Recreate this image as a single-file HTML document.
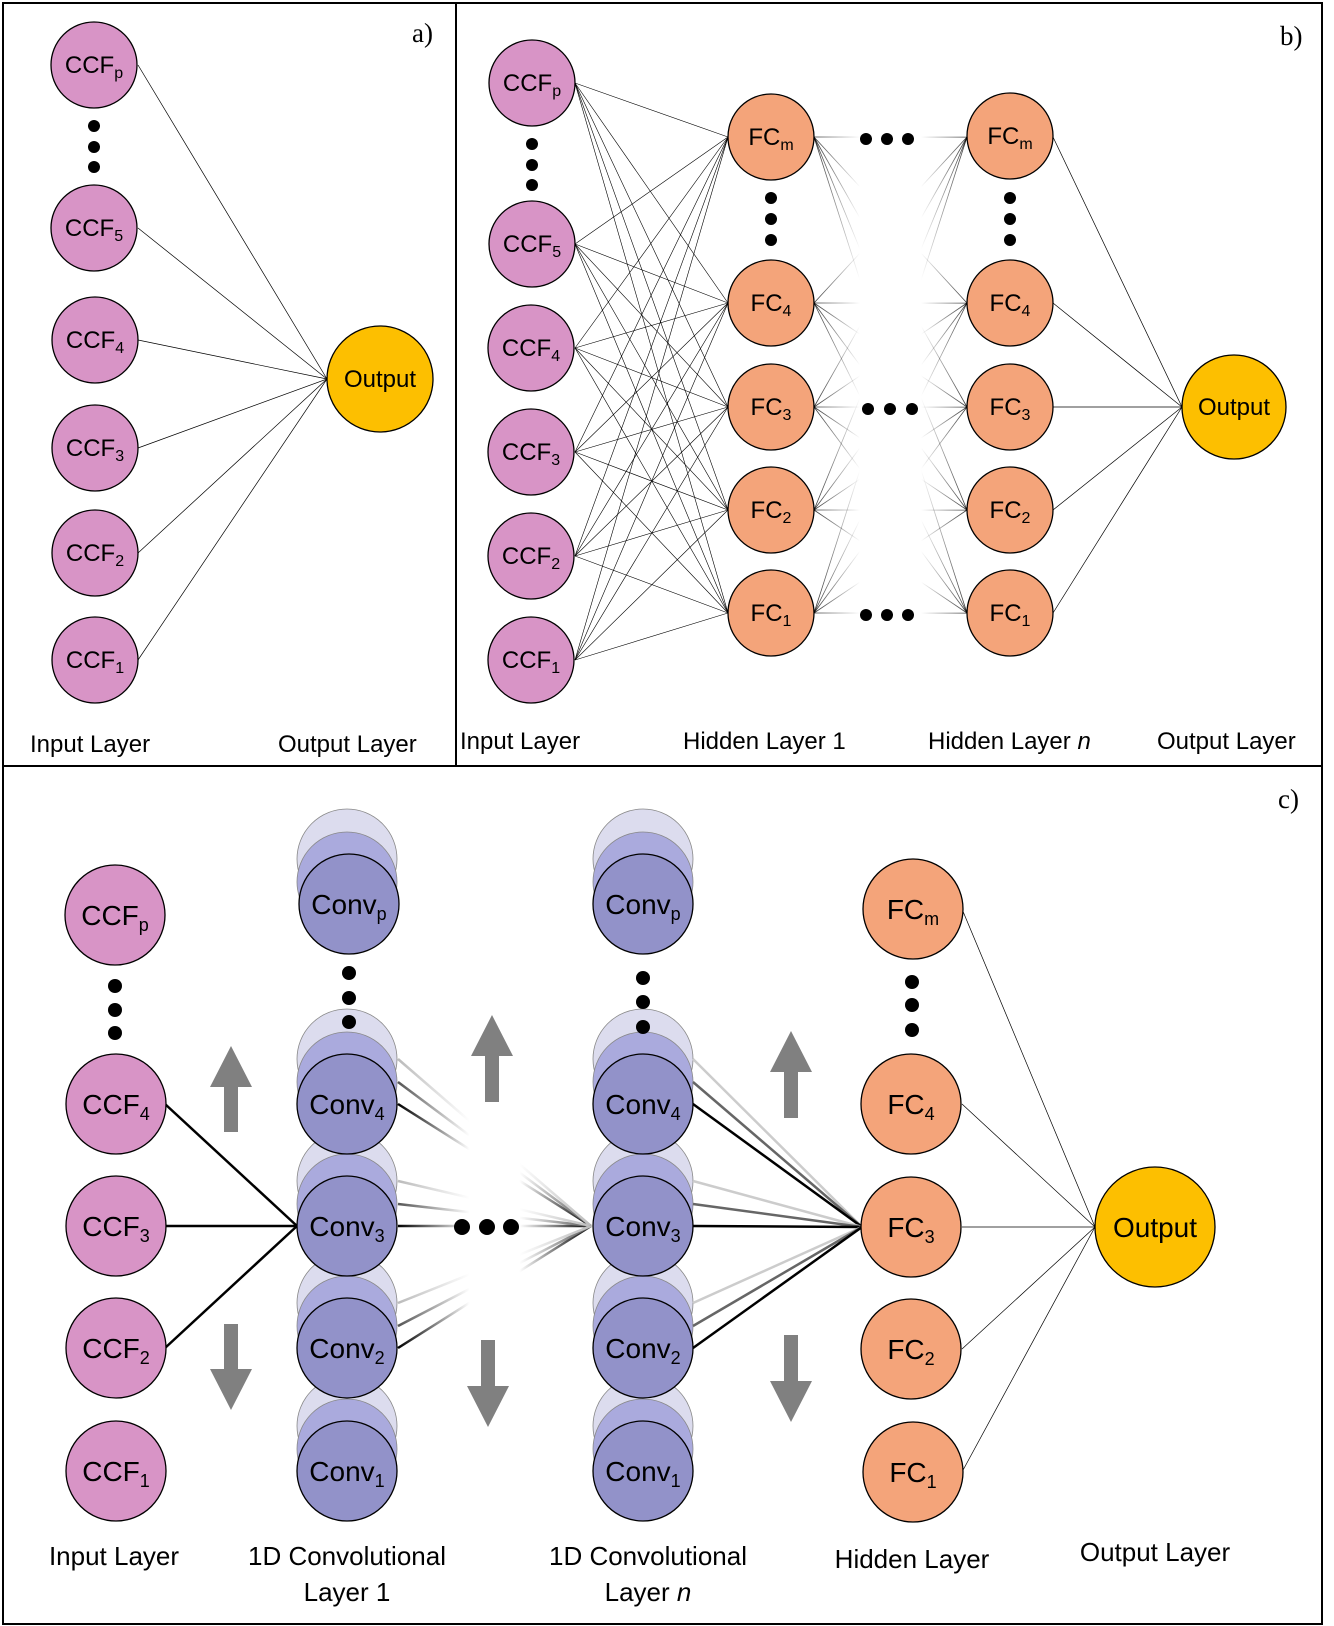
<!DOCTYPE html>
<html><head><meta charset="utf-8"><style>
html,body{margin:0;padding:0;background:#fff;}
svg{display:block;}
text{font-family:"Liberation Sans",sans-serif;fill:#000;}
.s{font-family:"Liberation Serif",serif;}
</style></head><body>
<svg width="1334" height="1626" viewBox="0 0 1334 1626" xmlns="http://www.w3.org/2000/svg">
<defs>
<linearGradient id="gb" gradientUnits="userSpaceOnUse" x1="814" y1="0" x2="967" y2="0">
<stop offset="0" stop-color="#000" stop-opacity="0.8"/><stop offset="0.3" stop-color="#000" stop-opacity="0"/>
<stop offset="0.7" stop-color="#000" stop-opacity="0"/><stop offset="1" stop-color="#000" stop-opacity="0.8"/></linearGradient>
<linearGradient id="fade" gradientUnits="userSpaceOnUse" x1="398" y1="0" x2="591" y2="0">
<stop offset="0" stop-color="#fff" stop-opacity="0"/><stop offset="0.37" stop-color="#fff" stop-opacity="1"/>
<stop offset="0.63" stop-color="#fff" stop-opacity="1"/><stop offset="1" stop-color="#fff" stop-opacity="0"/></linearGradient>
</defs>

<rect x="3" y="3" width="1319" height="1621" fill="none" stroke="#000" stroke-width="2"/>
<line x1="456" y1="3" x2="456" y2="766" stroke="#000" stroke-width="2"/>
<line x1="3" y1="766" x2="1322" y2="766" stroke="#000" stroke-width="2"/>

<g stroke="#000" stroke-width="0.7">
<line x1="138" y1="65" x2="327" y2="379"/><line x1="138" y1="228" x2="327" y2="379"/>
<line x1="138" y1="340" x2="327" y2="379"/><line x1="138" y1="448" x2="327" y2="379"/>
<line x1="138" y1="553" x2="327" y2="379"/><line x1="138" y1="660" x2="327" y2="379"/>
</g>
<g fill="#d894c6" stroke="#000" stroke-width="1.3">
<circle cx="94" cy="65" r="43"/><circle cx="94" cy="228" r="43"/><circle cx="95" cy="340" r="43"/>
<circle cx="95" cy="448" r="43"/><circle cx="95" cy="553" r="43"/><circle cx="95" cy="660" r="43"/>
</g>
<circle cx="380" cy="379" r="53" fill="#fdbf00" stroke="#000" stroke-width="1.3"/>
<g fill="#000"><circle cx="94" cy="126" r="6"/><circle cx="94" cy="147" r="6"/><circle cx="94" cy="167" r="6"/></g>
<g font-size="24" text-anchor="middle">
<text x="94" y="73">CCF<tspan font-size="16" dy="5">p</tspan></text>
<text x="94" y="236">CCF<tspan font-size="16" dy="5">5</tspan></text>
<text x="95" y="348">CCF<tspan font-size="16" dy="5">4</tspan></text>
<text x="95" y="456">CCF<tspan font-size="16" dy="5">3</tspan></text>
<text x="95" y="561">CCF<tspan font-size="16" dy="5">2</tspan></text>
<text x="95" y="668">CCF<tspan font-size="16" dy="5">1</tspan></text>
<text x="380" y="387">Output</text>
</g>
<text x="30" y="752" font-size="24">Input Layer</text>
<text x="278" y="752" font-size="24">Output Layer</text>
<text x="412" y="42" font-size="27" class="s">a)</text>

<g stroke="#000" stroke-width="0.6">
<line x1="575" y1="83" x2="728" y2="137"/><line x1="575" y1="83" x2="728" y2="303"/><line x1="575" y1="83" x2="728" y2="407"/><line x1="575" y1="83" x2="728" y2="510"/><line x1="575" y1="83" x2="728" y2="613"/>
<line x1="575" y1="244" x2="728" y2="137"/><line x1="575" y1="244" x2="728" y2="303"/><line x1="575" y1="244" x2="728" y2="407"/><line x1="575" y1="244" x2="728" y2="510"/><line x1="575" y1="244" x2="728" y2="613"/>
<line x1="575" y1="348" x2="728" y2="137"/><line x1="575" y1="348" x2="728" y2="303"/><line x1="575" y1="348" x2="728" y2="407"/><line x1="575" y1="348" x2="728" y2="510"/><line x1="575" y1="348" x2="728" y2="613"/>
<line x1="575" y1="452" x2="728" y2="137"/><line x1="575" y1="452" x2="728" y2="303"/><line x1="575" y1="452" x2="728" y2="407"/><line x1="575" y1="452" x2="728" y2="510"/><line x1="575" y1="452" x2="728" y2="613"/>
<line x1="575" y1="556" x2="728" y2="137"/><line x1="575" y1="556" x2="728" y2="303"/><line x1="575" y1="556" x2="728" y2="407"/><line x1="575" y1="556" x2="728" y2="510"/><line x1="575" y1="556" x2="728" y2="613"/>
<line x1="575" y1="660" x2="728" y2="137"/><line x1="575" y1="660" x2="728" y2="303"/><line x1="575" y1="660" x2="728" y2="407"/><line x1="575" y1="660" x2="728" y2="510"/><line x1="575" y1="660" x2="728" y2="613"/>
</g>
<g stroke="url(#gb)" stroke-width="0.8">
<line x1="814" y1="137" x2="967" y2="137.1"/><line x1="814" y1="137" x2="967" y2="303"/><line x1="814" y1="137" x2="967" y2="407"/><line x1="814" y1="137" x2="967" y2="510"/><line x1="814" y1="137" x2="967" y2="613"/>
<line x1="814" y1="303" x2="967" y2="137"/><line x1="814" y1="303" x2="967" y2="303.1"/><line x1="814" y1="303" x2="967" y2="407"/><line x1="814" y1="303" x2="967" y2="510"/><line x1="814" y1="303" x2="967" y2="613"/>
<line x1="814" y1="407" x2="967" y2="137"/><line x1="814" y1="407" x2="967" y2="303"/><line x1="814" y1="407" x2="967" y2="407.1"/><line x1="814" y1="407" x2="967" y2="510"/><line x1="814" y1="407" x2="967" y2="613"/>
<line x1="814" y1="510" x2="967" y2="137"/><line x1="814" y1="510" x2="967" y2="303"/><line x1="814" y1="510" x2="967" y2="407"/><line x1="814" y1="510" x2="967" y2="510.1"/><line x1="814" y1="510" x2="967" y2="613"/>
<line x1="814" y1="613" x2="967" y2="137"/><line x1="814" y1="613" x2="967" y2="303"/><line x1="814" y1="613" x2="967" y2="407"/><line x1="814" y1="613" x2="967" y2="510"/><line x1="814" y1="613" x2="967" y2="613.1"/>
</g>
<g stroke="#000" stroke-width="0.7">
<line x1="1053" y1="137" x2="1182" y2="407"/><line x1="1053" y1="303" x2="1182" y2="407"/>
<line x1="1053" y1="407" x2="1182" y2="407"/><line x1="1053" y1="510" x2="1182" y2="407"/>
<line x1="1053" y1="613" x2="1182" y2="407"/>
</g>
<g fill="#d894c6" stroke="#000" stroke-width="1.3">
<circle cx="532" cy="83" r="43"/><circle cx="532" cy="244" r="43"/><circle cx="531" cy="348" r="43"/>
<circle cx="531" cy="452" r="43"/><circle cx="531" cy="556" r="43"/><circle cx="531" cy="660" r="43"/>
</g>
<g fill="#f4a47a" stroke="#000" stroke-width="1.3">
<circle cx="771" cy="137" r="43"/><circle cx="771" cy="303" r="43"/><circle cx="771" cy="407" r="43"/><circle cx="771" cy="510" r="43"/><circle cx="771" cy="613" r="43"/>
<circle cx="1010" cy="136" r="43"/><circle cx="1010" cy="303" r="43"/><circle cx="1010" cy="407" r="43"/><circle cx="1010" cy="510" r="43"/><circle cx="1010" cy="613" r="43"/>
</g>
<circle cx="1234" cy="407" r="52" fill="#fdbf00" stroke="#000" stroke-width="1.3"/>
<g fill="#000">
<circle cx="532" cy="144" r="6"/><circle cx="532" cy="165" r="6"/><circle cx="532" cy="185" r="6"/>
<circle cx="771" cy="198" r="6"/><circle cx="771" cy="219" r="6"/><circle cx="771" cy="240" r="6"/>
<circle cx="1010" cy="198" r="6"/><circle cx="1010" cy="219" r="6"/><circle cx="1010" cy="240" r="6"/>
<circle cx="866" cy="139" r="6"/><circle cx="887" cy="139" r="6"/><circle cx="908" cy="139" r="6"/>
<circle cx="868" cy="409" r="6"/><circle cx="890" cy="409" r="6"/><circle cx="912" cy="409" r="6"/>
<circle cx="866" cy="615" r="6"/><circle cx="887" cy="615" r="6"/><circle cx="908" cy="615" r="6"/>
</g>
<g font-size="24" text-anchor="middle">
<text x="532" y="91">CCF<tspan font-size="16" dy="5">p</tspan></text>
<text x="532" y="252">CCF<tspan font-size="16" dy="5">5</tspan></text>
<text x="531" y="356">CCF<tspan font-size="16" dy="5">4</tspan></text>
<text x="531" y="460">CCF<tspan font-size="16" dy="5">3</tspan></text>
<text x="531" y="564">CCF<tspan font-size="16" dy="5">2</tspan></text>
<text x="531" y="668">CCF<tspan font-size="16" dy="5">1</tspan></text>
<text x="771" y="145">FC<tspan font-size="16" dy="5">m</tspan></text>
<text x="771" y="311">FC<tspan font-size="16" dy="5">4</tspan></text>
<text x="771" y="415">FC<tspan font-size="16" dy="5">3</tspan></text>
<text x="771" y="518">FC<tspan font-size="16" dy="5">2</tspan></text>
<text x="771" y="621">FC<tspan font-size="16" dy="5">1</tspan></text>
<text x="1010" y="144">FC<tspan font-size="16" dy="5">m</tspan></text>
<text x="1010" y="311">FC<tspan font-size="16" dy="5">4</tspan></text>
<text x="1010" y="415">FC<tspan font-size="16" dy="5">3</tspan></text>
<text x="1010" y="518">FC<tspan font-size="16" dy="5">2</tspan></text>
<text x="1010" y="621">FC<tspan font-size="16" dy="5">1</tspan></text>
<text x="1234" y="415">Output</text>
</g>
<text x="460" y="749" font-size="24">Input Layer</text>
<text x="683" y="749" font-size="24">Hidden Layer 1</text>
<text x="928" y="749" font-size="24">Hidden Layer <tspan font-style="italic">n</tspan></text>
<text x="1157" y="749" font-size="24">Output Layer</text>
<text x="1280" y="45" font-size="27" class="s">b)</text>

<text x="1278" y="808" font-size="27" class="s">c)</text>
<g stroke="#888" stroke-width="0.8">
<g fill="#dcdcee">
<circle cx="347" cy="859" r="50"/><circle cx="347" cy="1059" r="50"/><circle cx="347" cy="1181" r="50"/><circle cx="347" cy="1303" r="50"/><circle cx="347" cy="1426" r="50"/>
<circle cx="643" cy="859" r="50"/><circle cx="643" cy="1059" r="50"/><circle cx="643" cy="1181" r="50"/><circle cx="643" cy="1303" r="50"/><circle cx="643" cy="1426" r="50"/>
</g>
<g fill="#aaaadd">
<circle cx="347" cy="882" r="50"/><circle cx="347" cy="1082" r="50"/><circle cx="347" cy="1204" r="50"/><circle cx="347" cy="1326" r="50"/><circle cx="347" cy="1449" r="50"/>
<circle cx="643" cy="882" r="50"/><circle cx="643" cy="1082" r="50"/><circle cx="643" cy="1204" r="50"/><circle cx="643" cy="1326" r="50"/><circle cx="643" cy="1449" r="50"/>
</g>
</g>
<g stroke="#000" stroke-width="2.5">
<line x1="165" y1="1104" x2="297" y2="1226"/><line x1="165" y1="1226" x2="297" y2="1226"/><line x1="165" y1="1348" x2="297" y2="1226"/>
</g>
<g stroke-width="2.5">
<line x1="398" y1="1104" x2="591" y2="1226" stroke="#000"/><line x1="398" y1="1082" x2="591" y2="1226" stroke="#555"/><line x1="398" y1="1059" x2="591" y2="1226" stroke="#bbb"/>
<line x1="398" y1="1226" x2="591" y2="1226" stroke="#000"/><line x1="398" y1="1204" x2="591" y2="1226" stroke="#555"/><line x1="398" y1="1181" x2="591" y2="1226" stroke="#bbb"/>
<line x1="398" y1="1348" x2="591" y2="1226" stroke="#000"/><line x1="398" y1="1326" x2="591" y2="1226" stroke="#555"/><line x1="398" y1="1303" x2="591" y2="1226" stroke="#bbb"/>
</g>
<rect x="398" y="1030" width="193" height="340" fill="url(#fade)"/>
<g stroke-width="2.5">
<line x1="693" y1="1059" x2="862" y2="1227" stroke="#ccc"/><line x1="693" y1="1082" x2="862" y2="1227" stroke="#666"/><line x1="693" y1="1104" x2="862" y2="1227" stroke="#000"/>
<line x1="693" y1="1181" x2="862" y2="1227" stroke="#ccc"/><line x1="693" y1="1204" x2="862" y2="1227" stroke="#666"/><line x1="693" y1="1226" x2="862" y2="1227" stroke="#000"/>
<line x1="693" y1="1303" x2="862" y2="1227" stroke="#ccc"/><line x1="693" y1="1326" x2="862" y2="1227" stroke="#666"/><line x1="693" y1="1348" x2="862" y2="1227" stroke="#000"/>
</g>
<g stroke="#000" stroke-width="0.7">
<line x1="962" y1="909" x2="1095" y2="1227"/><line x1="962" y1="1104" x2="1095" y2="1227"/>
<line x1="962" y1="1227" x2="1095" y2="1227"/><line x1="962" y1="1349" x2="1095" y2="1227"/>
<line x1="962" y1="1472" x2="1095" y2="1227"/>
</g>
<g fill="#d894c6" stroke="#000" stroke-width="1.3">
<circle cx="115" cy="915" r="50"/><circle cx="116" cy="1104" r="50"/><circle cx="116" cy="1226" r="50"/><circle cx="116" cy="1348" r="50"/><circle cx="116" cy="1471" r="50"/>
</g>
<g fill="#9292c9" stroke="#000" stroke-width="1.3">
<circle cx="349" cy="904" r="50"/><circle cx="347" cy="1104" r="50"/><circle cx="347" cy="1226" r="50"/><circle cx="347" cy="1348" r="50"/><circle cx="347" cy="1471" r="50"/>
<circle cx="643" cy="904" r="50"/><circle cx="643" cy="1104" r="50"/><circle cx="643" cy="1226" r="50"/><circle cx="643" cy="1348" r="50"/><circle cx="643" cy="1471" r="50"/>
</g>
<g fill="#f4a47a" stroke="#000" stroke-width="1.3">
<circle cx="913" cy="909" r="50"/><circle cx="911" cy="1104" r="50"/><circle cx="911" cy="1227" r="50"/><circle cx="911" cy="1349" r="50"/><circle cx="913" cy="1472" r="50"/>
</g>
<circle cx="1155" cy="1227" r="60" fill="#fdbf00" stroke="#000" stroke-width="1.3"/>
<g fill="#000">
<circle cx="115" cy="986" r="7"/><circle cx="115" cy="1010" r="7"/><circle cx="115" cy="1033" r="7"/>
<circle cx="349" cy="973" r="7"/><circle cx="349" cy="998" r="7"/><circle cx="349" cy="1022" r="7"/>
<circle cx="643" cy="978" r="7"/><circle cx="643" cy="1002" r="7"/><circle cx="643" cy="1027" r="7"/>
<circle cx="912" cy="982" r="7"/><circle cx="912" cy="1005" r="7"/><circle cx="912" cy="1030" r="7"/>
<circle cx="462" cy="1227" r="8"/><circle cx="487" cy="1227" r="8"/><circle cx="511" cy="1227" r="8"/>
</g>
<g fill="#808080">
<polygon points="231,1046 252,1087 238,1087 238,1132 224,1132 224,1087 210,1087"/>
<polygon points="231,1410 252,1369 238,1369 238,1324 224,1324 224,1369 210,1369"/>
<polygon points="492,1015 513,1056 499,1056 499,1102 485,1102 485,1056 471,1056"/>
<polygon points="488,1427 509,1386 495,1386 495,1340 481,1340 481,1386 467,1386"/>
<polygon points="791,1031 812,1072 798,1072 798,1118 784,1118 784,1072 770,1072"/>
<polygon points="791,1422 812,1381 798,1381 798,1335 784,1335 784,1381 770,1381"/>
</g>
<g font-size="28" text-anchor="middle">
<text x="115" y="925">CCF<tspan font-size="18" dy="6">p</tspan></text>
<text x="116" y="1114">CCF<tspan font-size="18" dy="6">4</tspan></text>
<text x="116" y="1236">CCF<tspan font-size="18" dy="6">3</tspan></text>
<text x="116" y="1358">CCF<tspan font-size="18" dy="6">2</tspan></text>
<text x="116" y="1481">CCF<tspan font-size="18" dy="6">1</tspan></text>
<text x="349" y="914">Conv<tspan font-size="18" dy="6">p</tspan></text>
<text x="347" y="1114">Conv<tspan font-size="18" dy="6">4</tspan></text>
<text x="347" y="1236">Conv<tspan font-size="18" dy="6">3</tspan></text>
<text x="347" y="1358">Conv<tspan font-size="18" dy="6">2</tspan></text>
<text x="347" y="1481">Conv<tspan font-size="18" dy="6">1</tspan></text>
<text x="643" y="914">Conv<tspan font-size="18" dy="6">p</tspan></text>
<text x="643" y="1114">Conv<tspan font-size="18" dy="6">4</tspan></text>
<text x="643" y="1236">Conv<tspan font-size="18" dy="6">3</tspan></text>
<text x="643" y="1358">Conv<tspan font-size="18" dy="6">2</tspan></text>
<text x="643" y="1481">Conv<tspan font-size="18" dy="6">1</tspan></text>
<text x="913" y="919">FC<tspan font-size="18" dy="6">m</tspan></text>
<text x="911" y="1114">FC<tspan font-size="18" dy="6">4</tspan></text>
<text x="911" y="1237">FC<tspan font-size="18" dy="6">3</tspan></text>
<text x="911" y="1359">FC<tspan font-size="18" dy="6">2</tspan></text>
<text x="913" y="1482">FC<tspan font-size="18" dy="6">1</tspan></text>
<text x="1155" y="1237">Output</text>
</g>
<g font-size="26" text-anchor="middle">
<text x="114" y="1565">Input Layer</text>
<text x="347" y="1565">1D Convolutional</text>
<text x="347" y="1601">Layer 1</text>
<text x="648" y="1565">1D Convolutional</text>
<text x="648" y="1601">Layer <tspan font-style="italic">n</tspan></text>
<text x="912" y="1568">Hidden Layer</text>
<text x="1155" y="1561">Output Layer</text>
</g>
</svg>
</body></html>
